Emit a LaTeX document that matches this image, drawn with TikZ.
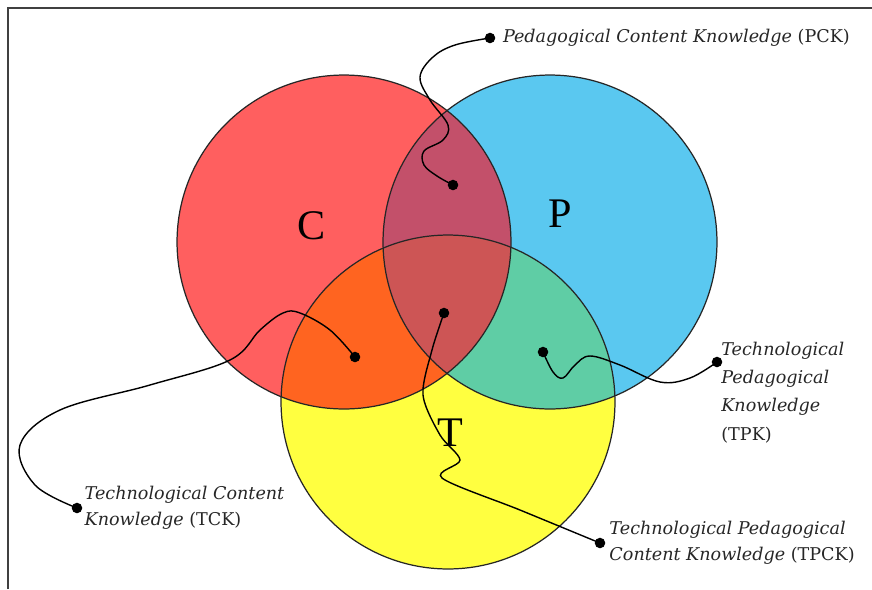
\documentclass[tikz,border=0pt]{standalone}
\usepackage{fontspec}
\setmainfont{Liberation Serif}
\newfontfamily\lblfont{DejaVu Serif}
\usetikzlibrary{positioning}

\definecolor{cred}{HTML}{FF5F5F}
\definecolor{pblue}{HTML}{5AC8F0}
\definecolor{tyellow}{HTML}{FFFF40}
\definecolor{cpmix}{HTML}{C3506A}
\definecolor{ctmix}{HTML}{FF6420}
\definecolor{ptmix}{HTML}{5FCDA5}
\definecolor{cptmix}{HTML}{CD5555}

\tikzset{
  ring/.style={draw=black!85, line width=0.7pt},
  wire/.style={line width=0.8pt, black},
  dot/.style={circle, fill=black, inner sep=0pt, minimum size=6pt},
  lbl/.style={font=\lblfont\fontsize{10}{14.5}\selectfont, text=black!85, align=left, inner sep=0pt},
  letter/.style={font=\fontsize{24}{28}\selectfont}
}

\begin{document}
\begin{tikzpicture}[x=0.02cm, y=-0.02cm]
  \useasboundingbox (0,0) rectangle (872,589);
  % frame
  \draw[black!75, line width=1.1pt] (8,589) -- (8,8) -- (872,8);

  % circle centres
  \coordinate (C) at (344,242);
  \coordinate (P) at (550,242);
  \coordinate (T) at (448,402);

  % fills
  \fill[pblue] (P) circle[radius=3.34cm];
  \fill[cred] (C) circle[radius=3.34cm];
  \fill[tyellow] (T) circle[radius=3.34cm];
  \begin{scope}
    \clip (C) circle[radius=3.34cm];
    \fill[cpmix] (P) circle[radius=3.34cm];
    \fill[ctmix] (T) circle[radius=3.34cm];
  \end{scope}
  \begin{scope}
    \clip (P) circle[radius=3.34cm];
    \fill[ptmix] (T) circle[radius=3.34cm];
    \clip (T) circle[radius=3.34cm];
    \fill[cptmix] (C) circle[radius=3.34cm];
  \end{scope}
  % outlines
  \draw[ring] (C) circle[radius=3.34cm];
  \draw[ring] (P) circle[radius=3.34cm];
  \draw[ring] (T) circle[radius=3.34cm];

  % letters
  \node[letter] (cl) at (312,226) {C};
  \node[letter] (pl) at (560,214) {P};
  \node[letter] (tl) at (450,433) {T};

  % dots inside the regions
  \node[dot] (pcdot) at (453,185) {};
  \node[dot] (tcdot) at (355,357) {};
  \node[dot] (tpcdot) at (444,313) {};
  \node[dot] (tpdot) at (543,352) {};

  % dots at the labels
  \node[dot] (pckend) at (490,38) {};
  \node[dot] (tckend) at (77,508) {};
  \node[dot] (tpckend) at (600,543) {};
  \node[dot] (tpkend) at (717,362) {};

  % wires
  \draw[wire] plot[smooth, tension=0.6] coordinates {(pckend.center) (455,45) (433,57) (420,77) (430,100) (448,125) (443,140) (424,151) (424,165) (437,176) (pcdot.center)};
  \draw[wire] plot[smooth, tension=0.6] coordinates {(tcdot.center) (330,330) (300,313) (283,313) (260,330) (230,360) (150,385) (60,410) (20,445) (35,485) (tckend.center)};
  \draw[wire] plot[smooth, tension=0.5] coordinates {(tpcdot.center) (432,350) (423,395) (440,435) (460,460) (442,478) (520,510) (tpckend.center)};
  \draw[wire] plot[smooth, tension=0.6] coordinates {(tpdot.center) (553,372) (563,378) (575,365) (590,356) (620,365) (660,382) (690,378) (tpkend.center)};

  % labels
  \node[lbl, right=4pt of pckend] (pck) {\textit{Pedagogical Content Knowledge} (PCK)};
  \node[lbl, right=1pt of tckend] (tck) {\textit{Technological Content}\\\textit{Knowledge} (TCK)};
  \node[lbl, right=2pt of tpckend] (tpck) {\textit{Technological Pedagogical}\\\textit{Content Knowledge} (TPCK)};
  \node[lbl, anchor=north west, font=\lblfont\fontsize{10}{16}\selectfont] (tpk) at (721,342) {\textit{Technological}\\\textit{Pedagogical}\\\textit{Knowledge}\\(TPK)};
\end{tikzpicture}
\end{document}
